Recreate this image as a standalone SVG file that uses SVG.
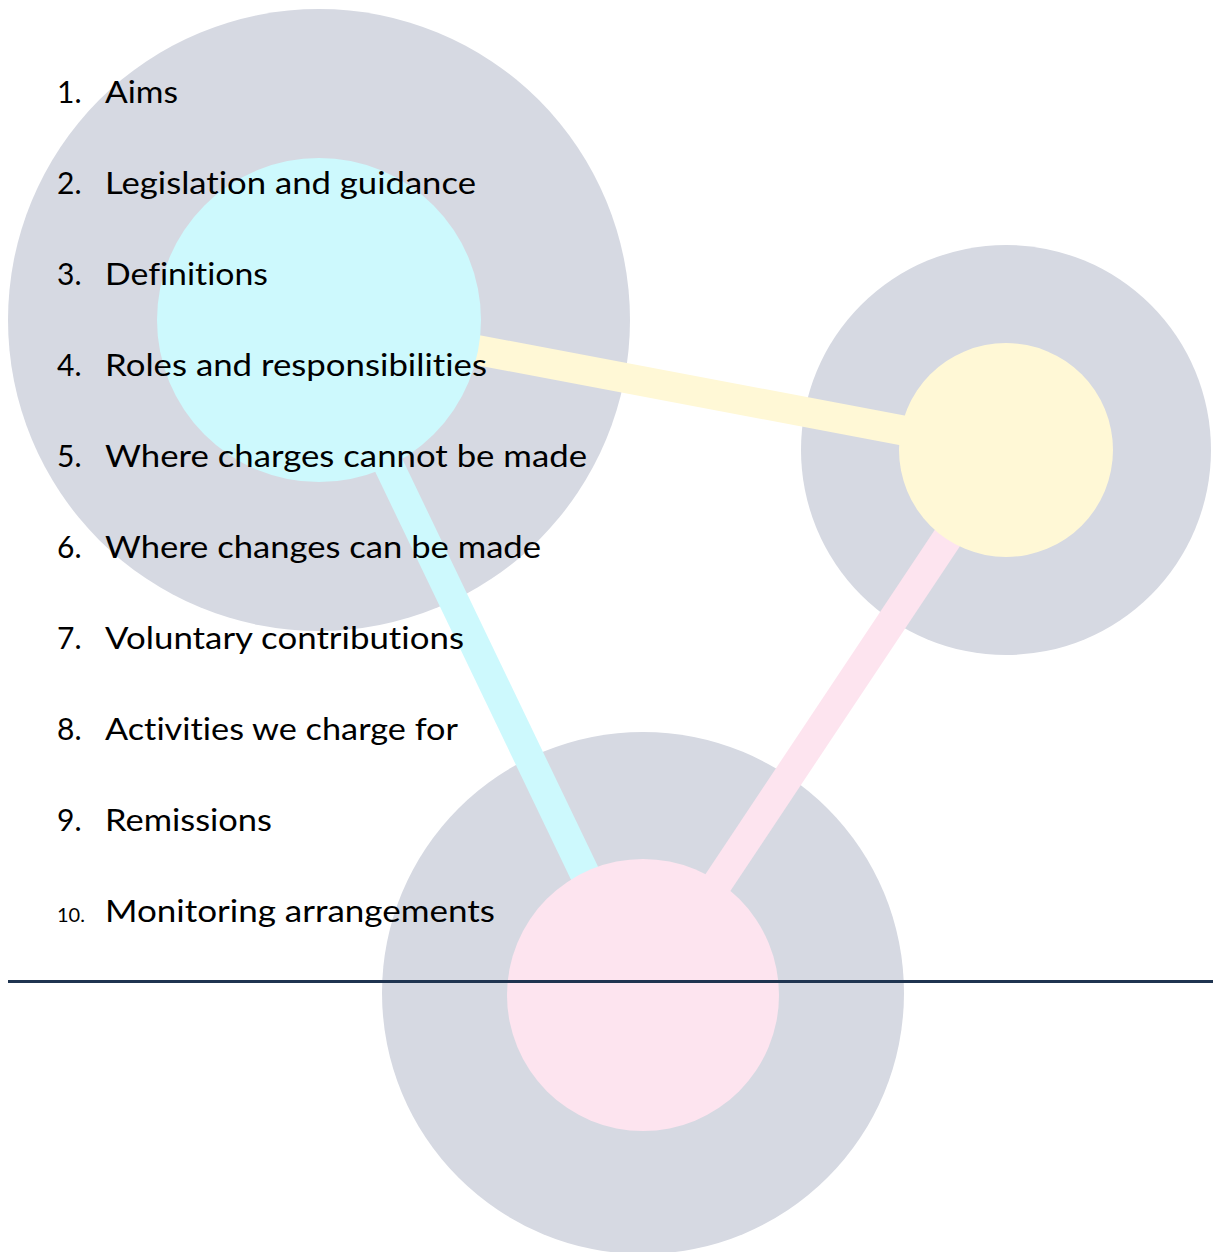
<svg xmlns="http://www.w3.org/2000/svg" width="1213" height="1252" viewBox="0 0 1213 1252">
<style>
.outer{fill:#d6d9e2}
.bar{stroke-width:30;stroke-linecap:butt;fill:none}
text{font-family:Lato,"Open Sans","Liberation Sans",sans-serif;fill:#000;font-variant-ligatures:none;font-feature-settings:"liga" 0,"clig" 0}
.item{font-size:30px}
.num{font-size:30px}
.num10{font-size:20px}
</style>
<rect width="1213" height="1252" fill="#ffffff"/>
<g id="outer-circles">
<circle class="outer" cx="319" cy="320" r="311"/>
<circle class="outer" cx="1006" cy="450" r="205"/>
<circle class="outer" cx="643" cy="993" r="261"/>
</g>
<g id="connectors">
<line class="bar" x1="319" y1="320" x2="1006" y2="450" stroke="#fff8d6"/>
<line class="bar" x1="319" y1="320" x2="643" y2="995" stroke="#cdf9fd"/>
<line class="bar" x1="1006" y1="450" x2="643" y2="995" stroke="#fde4ef"/>
</g>
<g id="node-cyan"><circle cx="319" cy="320" r="162" fill="#cdf9fd"/></g>
<g id="node-yellow"><circle cx="1006" cy="450" r="107" fill="#fff8d6"/></g>
<g id="node-pink"><circle cx="643" cy="995" r="136" fill="#fde4ef"/></g>
<g id="list">
<text class="num" x="57" y="103">1.</text><text class="item" x="105" y="103" textLength="73" lengthAdjust="spacingAndGlyphs">Aims</text>
<text class="num" x="57" y="194">2.</text><text class="item" x="105" y="194" textLength="371" lengthAdjust="spacingAndGlyphs">Legislation and guidance</text>
<text class="num" x="57" y="285">3.</text><text class="item" x="105" y="285" textLength="163" lengthAdjust="spacingAndGlyphs">Definitions</text>
<text class="num" x="57" y="376">4.</text><text class="item" x="105" y="376" textLength="382" lengthAdjust="spacingAndGlyphs">Roles and responsibilities</text>
<text class="num" x="57" y="467">5.</text><text class="item" x="105" y="467" textLength="482" lengthAdjust="spacingAndGlyphs">Where charges cannot be made</text>
<text class="num" x="57" y="558">6.</text><text class="item" x="105" y="558" textLength="436" lengthAdjust="spacingAndGlyphs">Where changes can be made</text>
<text class="num" x="57" y="649">7.</text><text class="item" x="105" y="649" textLength="359" lengthAdjust="spacingAndGlyphs">Voluntary contributions</text>
<text class="num" x="57" y="740">8.</text><text class="item" x="105" y="740" textLength="353" lengthAdjust="spacingAndGlyphs">Activities we charge for</text>
<text class="num" x="57" y="831">9.</text><text class="item" x="105" y="831" textLength="167" lengthAdjust="spacingAndGlyphs">Remissions</text>
<text class="num10" x="57" y="922">10.</text><text class="item" x="105" y="922" textLength="390" lengthAdjust="spacingAndGlyphs">Monitoring arrangements</text>
</g>
<line id="divider" x1="8" y1="981.5" x2="1213" y2="981.5" stroke="#1f3450" stroke-width="3"/>
</svg>
